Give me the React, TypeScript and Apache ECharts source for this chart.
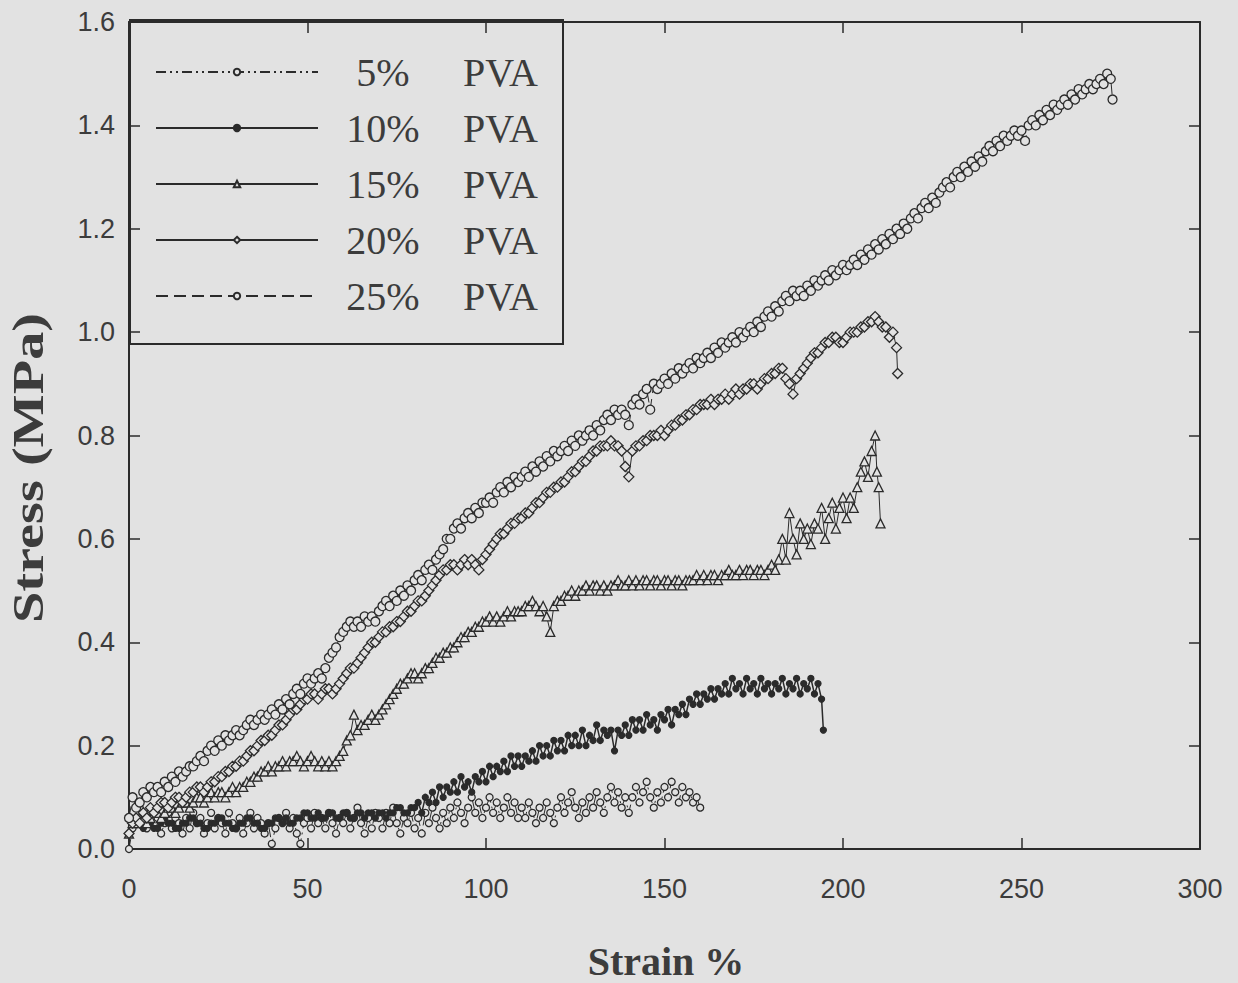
import React, { useEffect, useRef } from "react";
import * as echarts from "echarts";

const xTicks = [0, 50, 100, 150, 200, 250, 300];
const yTicks = [0, 0.2, 0.4, 0.6, 0.8, 1.0, 1.2, 1.4, 1.6];
const seriesNames = ["5% PVA", "10% PVA", "15% PVA", "20% PVA", "25% PVA"];

const pva5: [number, number][] = [
  [0,0.0],[1,0.04],[2,0.05],[3,0.08],[4,0.06],[5,0.04],[6,0.07],[7,0.05],[8,0.06],[9,0.03],
  [10,0.05],[11,0.07],[12,0.04],[13,0.06],[14,0.05],[15,0.03],[16,0.06],[17,0.04],[18,0.07],[19,0.05],
  [20,0.06],[21,0.03],[22,0.05],[23,0.07],[24,0.04],[25,0.06],[26,0.05],[27,0.03],[28,0.07],[29,0.05],
  [30,0.04],[31,0.06],[32,0.03],[33,0.05],[34,0.07],[35,0.04],[36,0.06],[37,0.05],[38,0.03],[39,0.05],
  [40,0.01],[41,0.04],[42,0.06],[43,0.05],[44,0.07],[45,0.04],[46,0.06],[47,0.03],[48,0.01],[49,0.05],
  [50,0.06],[51,0.04],[52,0.07],[53,0.05],[54,0.06],[55,0.04],[56,0.07],[57,0.05],[58,0.03],[59,0.06],
  [60,0.05],[61,0.07],[62,0.04],[63,0.06],[64,0.08],[65,0.05],[66,0.03],[67,0.06],[68,0.04],[69,0.07],
  [70,0.06],[71,0.04],[72,0.07],[73,0.05],[74,0.08],[75,0.05],[76,0.03],[77,0.06],[78,0.05],[79,0.07],
  [80,0.04],[81,0.06],[82,0.03],[83,0.07],[84,0.05],[85,0.08],[86,0.06],[87,0.04],[88,0.07],[89,0.05],
  [90,0.08],[91,0.06],[92,0.09],[93,0.07],[94,0.05],[95,0.08],[96,0.1],[97,0.07],[98,0.09],[99,0.06],
  [100,0.08],[101,0.1],[102,0.07],[103,0.09],[104,0.06],[105,0.08],[106,0.1],[107,0.07],[108,0.09],[109,0.06],
  [110,0.08],[111,0.06],[112,0.09],[113,0.07],[114,0.05],[115,0.08],[116,0.06],[117,0.09],[118,0.07],[119,0.05],
  [120,0.08],[121,0.1],[122,0.07],[123,0.09],[124,0.11],[125,0.08],[126,0.06],[127,0.09],[128,0.07],[129,0.1],
  [130,0.08],[131,0.11],[132,0.09],[133,0.07],[134,0.1],[135,0.12],[136,0.09],[137,0.11],[138,0.08],[139,0.1],
  [140,0.07],[141,0.1],[142,0.12],[143,0.09],[144,0.11],[145,0.13],[146,0.1],[147,0.08],[148,0.11],[149,0.09],
  [150,0.12],[151,0.1],[152,0.13],[153,0.11],[154,0.09],[155,0.12],[156,0.1],[157,0.11],[158,0.09],[159,0.1],[160,0.08],
];

const pva10: [number, number][] = [
  [0,0.03],[1,0.05],[2,0.06],[3,0.05],[4,0.04],[5,0.05],[6,0.05],[7,0.04],[8,0.04],[9,0.05],
  [10,0.06],[11,0.05],[12,0.05],[13,0.04],[14,0.04],[15,0.05],[16,0.05],[17,0.06],[18,0.06],[19,0.05],
  [20,0.05],[21,0.04],[22,0.04],[23,0.05],[24,0.05],[25,0.06],[26,0.06],[27,0.05],[28,0.05],[29,0.04],
  [30,0.04],[31,0.05],[32,0.05],[33,0.06],[34,0.06],[35,0.05],[36,0.05],[37,0.04],[38,0.04],[39,0.05],
  [40,0.05],[41,0.06],[42,0.06],[43,0.05],[44,0.06],[45,0.05],[46,0.05],[47,0.06],[48,0.06],[49,0.07],
  [50,0.07],[51,0.06],[52,0.06],[53,0.07],[54,0.06],[55,0.06],[56,0.07],[57,0.07],[58,0.06],[59,0.06],
  [60,0.07],[61,0.07],[62,0.06],[63,0.06],[64,0.07],[65,0.07],[66,0.06],[67,0.07],[68,0.07],[69,0.06],
  [70,0.07],[71,0.07],[72,0.06],[73,0.07],[74,0.07],[75,0.08],[76,0.08],[77,0.07],[78,0.07],[79,0.08],
  [80,0.08],[81,0.09],[82,0.07],[83,0.1],[84,0.09],[85,0.11],[86,0.09],[87,0.12],[88,0.1],[89,0.12],
  [90,0.11],[91,0.13],[92,0.11],[93,0.14],[94,0.12],[95,0.13],[96,0.11],[97,0.14],[98,0.13],[99,0.15],
  [100,0.13],[101,0.16],[102,0.14],[103,0.16],[104,0.15],[105,0.17],[106,0.15],[107,0.18],[108,0.16],[109,0.18],
  [110,0.16],[111,0.18],[112,0.17],[113,0.19],[114,0.17],[115,0.2],[116,0.18],[117,0.2],[118,0.18],[119,0.21],
  [120,0.19],[121,0.21],[122,0.19],[123,0.22],[124,0.2],[125,0.22],[126,0.2],[127,0.23],[128,0.2],[129,0.22],
  [130,0.21],[131,0.24],[132,0.21],[133,0.23],[134,0.22],[135,0.23],[136,0.19],[137,0.23],[138,0.22],[139,0.24],
  [140,0.22],[141,0.25],[142,0.23],[143,0.25],[144,0.23],[145,0.26],[146,0.24],[147,0.25],[148,0.23],[149,0.26],
  [150,0.25],[151,0.27],[152,0.24],[153,0.27],[154,0.26],[155,0.28],[156,0.26],[157,0.29],[158,0.28],[159,0.3],
  [160,0.28],[161,0.3],[162,0.29],[163,0.31],[164,0.29],[165,0.31],[166,0.3],[167,0.32],[168,0.3],[169,0.33],
  [170,0.31],[171,0.32],[172,0.3],[173,0.33],[174,0.31],[175,0.32],[176,0.3],[177,0.33],[178,0.31],[179,0.32],
  [180,0.3],[181,0.32],[182,0.31],[183,0.33],[184,0.3],[185,0.32],[186,0.31],[187,0.33],[188,0.3],[189,0.32],
  [190,0.31],[191,0.33],[192,0.3],[193,0.32],[194,0.29],[194.5,0.23],
];

const pva15: [number, number][] = [
  [0,0.03],[1,0.05],[2,0.05],[3,0.06],[4,0.06],[5,0.05],[6,0.06],[7,0.07],[8,0.07],[9,0.06],
  [10,0.07],[11,0.08],[12,0.08],[13,0.07],[14,0.08],[15,0.09],[16,0.09],[17,0.08],[18,0.09],[19,0.1],
  [20,0.1],[21,0.09],[22,0.1],[23,0.11],[24,0.1],[25,0.11],[26,0.11],[27,0.1],[28,0.11],[29,0.12],
  [30,0.11],[31,0.12],[32,0.12],[33,0.13],[34,0.13],[35,0.14],[36,0.14],[37,0.15],[38,0.15],[39,0.16],
  [40,0.15],[41,0.16],[42,0.16],[43,0.17],[44,0.16],[45,0.17],[46,0.17],[47,0.18],[48,0.17],[49,0.16],
  [50,0.17],[51,0.18],[52,0.17],[53,0.16],[54,0.17],[55,0.16],[56,0.17],[57,0.16],[58,0.17],[59,0.18],
  [60,0.19],[61,0.21],[62,0.22],[63,0.26],[64,0.23],[65,0.24],[66,0.24],[67,0.25],[68,0.26],[69,0.25],
  [70,0.26],[71,0.27],[72,0.28],[73,0.29],[74,0.3],[75,0.31],[76,0.32],[77,0.32],[78,0.33],[79,0.34],
  [80,0.34],[81,0.33],[82,0.34],[83,0.35],[84,0.35],[85,0.36],[86,0.37],[87,0.37],[88,0.38],[89,0.38],
  [90,0.39],[91,0.39],[92,0.4],[93,0.41],[94,0.41],[95,0.42],[96,0.42],[97,0.43],[98,0.43],[99,0.44],
  [100,0.44],[101,0.45],[102,0.44],[103,0.45],[104,0.44],[105,0.45],[106,0.46],[107,0.45],[108,0.46],[109,0.46],
  [110,0.46],[111,0.47],[112,0.47],[113,0.48],[114,0.47],[115,0.46],[116,0.47],[117,0.45],[118,0.42],[119,0.47],
  [120,0.48],[121,0.48],[122,0.49],[123,0.49],[124,0.5],[125,0.49],[126,0.5],[127,0.5],[128,0.51],[129,0.5],
  [130,0.51],[131,0.51],[132,0.5],[133,0.51],[134,0.5],[135,0.51],[136,0.51],[137,0.52],[138,0.51],[139,0.51],
  [140,0.52],[141,0.51],[142,0.52],[143,0.51],[144,0.52],[145,0.52],[146,0.51],[147,0.52],[148,0.52],[149,0.51],
  [150,0.52],[151,0.52],[152,0.51],[153,0.52],[154,0.52],[155,0.51],[156,0.52],[157,0.52],[158,0.52],[159,0.53],
  [160,0.52],[161,0.53],[162,0.52],[163,0.53],[164,0.53],[165,0.52],[166,0.53],[167,0.53],[168,0.54],[169,0.53],
  [170,0.53],[171,0.54],[172,0.53],[173,0.54],[174,0.54],[175,0.53],[176,0.54],[177,0.54],[178,0.53],[179,0.54],
  [180,0.55],[181,0.54],[182,0.56],[183,0.6],[184,0.56],[185,0.65],[186,0.6],[187,0.57],[188,0.63],[189,0.6],
  [190,0.62],[191,0.59],[192,0.63],[193,0.62],[194,0.66],[195,0.6],[196,0.64],[197,0.67],[198,0.62],[199,0.66],
  [200,0.68],[201,0.64],[202,0.68],[203,0.66],[204,0.7],[205,0.73],[206,0.75],[207,0.72],[208,0.77],[209,0.8],
  [209.5,0.73],[210,0.7],[210.5,0.63],
];

const pva20: [number, number][] = [
  [0,0.03],[1,0.05],[2,0.06],[3,0.05],[4,0.07],[5,0.06],[6,0.08],[7,0.07],[8,0.08],[9,0.09],
  [10,0.09],[11,0.08],[12,0.09],[13,0.1],[14,0.1],[15,0.09],[16,0.1],[17,0.11],[18,0.11],[19,0.12],
  [20,0.12],[21,0.11],[22,0.12],[23,0.13],[24,0.13],[25,0.14],[26,0.14],[27,0.15],[28,0.15],[29,0.16],
  [30,0.16],[31,0.17],[32,0.17],[33,0.18],[34,0.19],[35,0.19],[36,0.2],[37,0.21],[38,0.21],[39,0.22],
  [40,0.22],[41,0.23],[42,0.24],[43,0.24],[44,0.25],[45,0.26],[46,0.27],[47,0.27],[48,0.28],[49,0.29],
  [50,0.29],[51,0.3],[52,0.3],[53,0.29],[54,0.3],[55,0.31],[56,0.31],[57,0.3],[58,0.31],[59,0.32],
  [60,0.33],[61,0.34],[62,0.35],[63,0.35],[64,0.36],[65,0.37],[66,0.38],[67,0.39],[68,0.4],[69,0.4],
  [70,0.41],[71,0.42],[72,0.42],[73,0.43],[74,0.43],[75,0.44],[76,0.44],[77,0.45],[78,0.46],[79,0.46],
  [80,0.47],[81,0.48],[82,0.48],[83,0.49],[84,0.5],[85,0.51],[86,0.52],[87,0.53],[88,0.54],[89,0.54],
  [90,0.55],[91,0.55],[92,0.54],[93,0.55],[94,0.56],[95,0.55],[96,0.56],[97,0.55],[98,0.54],[99,0.56],
  [100,0.57],[101,0.58],[102,0.59],[103,0.6],[104,0.61],[105,0.61],[106,0.62],[107,0.63],[108,0.63],[109,0.64],
  [110,0.64],[111,0.65],[112,0.65],[113,0.66],[114,0.67],[115,0.67],[116,0.68],[117,0.69],[118,0.69],[119,0.7],
  [120,0.7],[121,0.71],[122,0.71],[123,0.72],[124,0.73],[125,0.73],[126,0.74],[127,0.75],[128,0.75],[129,0.76],
  [130,0.77],[131,0.77],[132,0.78],[133,0.78],[134,0.78],[135,0.79],[136,0.78],[137,0.78],[138,0.77],[139,0.74],
  [140,0.72],[141,0.77],[142,0.78],[143,0.78],[144,0.79],[145,0.79],[146,0.8],[147,0.8],[148,0.8],[149,0.81],
  [150,0.8],[151,0.81],[152,0.82],[153,0.82],[154,0.83],[155,0.83],[156,0.84],[157,0.84],[158,0.85],[159,0.85],
  [160,0.86],[161,0.86],[162,0.86],[163,0.87],[164,0.86],[165,0.87],[166,0.87],[167,0.88],[168,0.87],[169,0.88],
  [170,0.89],[171,0.88],[172,0.89],[173,0.89],[174,0.9],[175,0.9],[176,0.89],[177,0.9],[178,0.91],[179,0.91],
  [180,0.92],[181,0.92],[182,0.93],[183,0.93],[184,0.91],[185,0.9],[186,0.88],[187,0.91],[188,0.92],[189,0.93],
  [190,0.94],[191,0.95],[192,0.96],[193,0.96],[194,0.97],[195,0.98],[196,0.98],[197,0.99],[198,0.99],[199,0.98],
  [200,0.98],[201,0.99],[202,1.0],[203,1.0],[204,1.0],[205,1.01],[206,1.01],[207,1.02],[208,1.02],[209,1.03],
  [210,1.02],[211,1.01],[212,1.01],[213,0.99],[214,1.0],[215,0.97],[215.3,0.92],
];

const pva25: [number, number][] = [
  [0,0.06],[1,0.1],[2,0.08],[3,0.09],[4,0.11],[5,0.1],[6,0.12],[7,0.11],[8,0.12],[9,0.11],
  [10,0.13],[11,0.12],[12,0.14],[13,0.13],[14,0.15],[15,0.14],[16,0.15],[17,0.16],[18,0.16],[19,0.17],
  [20,0.18],[21,0.17],[22,0.19],[23,0.2],[24,0.19],[25,0.21],[26,0.2],[27,0.22],[28,0.21],[29,0.22],
  [30,0.23],[31,0.22],[32,0.23],[33,0.24],[34,0.25],[35,0.24],[36,0.25],[37,0.26],[38,0.25],[39,0.26],
  [40,0.27],[41,0.26],[42,0.28],[43,0.27],[44,0.29],[45,0.28],[46,0.3],[47,0.31],[48,0.3],[49,0.32],
  [50,0.33],[51,0.32],[52,0.33],[53,0.34],[54,0.33],[55,0.35],[56,0.37],[57,0.38],[58,0.39],[59,0.41],
  [60,0.42],[61,0.43],[62,0.44],[63,0.43],[64,0.44],[65,0.43],[66,0.45],[67,0.44],[68,0.45],[69,0.44],
  [70,0.46],[71,0.47],[72,0.48],[73,0.47],[74,0.49],[75,0.48],[76,0.5],[77,0.49],[78,0.51],[79,0.5],
  [80,0.52],[81,0.53],[82,0.52],[83,0.54],[84,0.55],[85,0.54],[86,0.56],[87,0.57],[88,0.58],[89,0.6],
  [90,0.6],[91,0.62],[92,0.63],[93,0.62],[94,0.64],[95,0.65],[96,0.64],[97,0.66],[98,0.65],[99,0.67],
  [100,0.67],[101,0.68],[102,0.67],[103,0.69],[104,0.7],[105,0.69],[106,0.71],[107,0.7],[108,0.72],[109,0.71],
  [110,0.72],[111,0.73],[112,0.72],[113,0.74],[114,0.73],[115,0.75],[116,0.74],[117,0.76],[118,0.75],[119,0.77],
  [120,0.76],[121,0.77],[122,0.78],[123,0.77],[124,0.79],[125,0.78],[126,0.8],[127,0.79],[128,0.8],[129,0.81],
  [130,0.8],[131,0.82],[132,0.81],[133,0.83],[134,0.84],[135,0.83],[136,0.85],[137,0.84],[138,0.85],[139,0.84],
  [140,0.82],[141,0.86],[142,0.87],[143,0.86],[144,0.88],[145,0.89],[146,0.85],[147,0.9],[148,0.89],[149,0.9],
  [150,0.91],[151,0.9],[152,0.92],[153,0.91],[154,0.93],[155,0.92],[156,0.93],[157,0.94],[158,0.93],[159,0.95],
  [160,0.94],[161,0.95],[162,0.96],[163,0.95],[164,0.97],[165,0.96],[166,0.98],[167,0.97],[168,0.98],[169,0.99],
  [170,0.98],[171,1.0],[172,0.99],[173,1.0],[174,1.01],[175,1.0],[176,1.02],[177,1.01],[178,1.03],[179,1.04],
  [180,1.03],[181,1.05],[182,1.04],[183,1.06],[184,1.07],[185,1.06],[186,1.08],[187,1.07],[188,1.08],[189,1.07],
  [190,1.09],[191,1.08],[192,1.1],[193,1.09],[194,1.1],[195,1.11],[196,1.1],[197,1.12],[198,1.11],[199,1.12],
  [200,1.13],[201,1.12],[202,1.13],[203,1.14],[204,1.13],[205,1.15],[206,1.14],[207,1.16],[208,1.15],[209,1.17],
  [210,1.16],[211,1.18],[212,1.17],[213,1.19],[214,1.18],[215,1.2],[216,1.19],[217,1.21],[218,1.2],[219,1.22],
  [220,1.23],[221,1.22],[222,1.24],[223,1.25],[224,1.24],[225,1.26],[226,1.25],[227,1.27],[228,1.28],[229,1.29],
  [230,1.28],[231,1.3],[232,1.31],[233,1.3],[234,1.32],[235,1.31],[236,1.33],[237,1.32],[238,1.34],[239,1.33],
  [240,1.35],[241,1.36],[242,1.35],[243,1.37],[244,1.36],[245,1.38],[246,1.37],[247,1.38],[248,1.39],[249,1.38],
  [250,1.39],[251,1.37],[252,1.4],[253,1.41],[254,1.4],[255,1.42],[256,1.41],[257,1.43],[258,1.42],[259,1.44],
  [260,1.43],[261,1.44],[262,1.45],[263,1.44],[264,1.46],[265,1.45],[266,1.47],[267,1.46],[268,1.47],[269,1.48],
  [270,1.47],[271,1.48],[272,1.49],[273,1.48],[274,1.5],[275,1.49],[275.5,1.45],
];

const BG = "#e2e2e2";
const INK = "#2b2b2b";
const TXT = "#3c3c3c";

export default function App() {
  const ref = useRef<HTMLDivElement>(null);
  useEffect(() => {
    document.body.style.margin = "0";
    document.body.style.background = BG;
    const chart = echarts.init(ref.current!, null, { renderer: "svg" });

    const mk = (
      name: string,
      data: [number, number][],
      symbol: string,
      size: number,
      filled: boolean,
      dash: any,
      lw: number
    ) => ({
      name,
      type: "line",
      data,
      symbol,
      symbolSize: size,
      showSymbol: true,
      lineStyle: { color: INK, width: lw, type: dash },
      itemStyle: { color: filled ? INK : BG, borderColor: INK, borderWidth: 1.3 },
      emphasis: { disabled: true },
    });

    const axisCommon = {
      type: "value",
      axisLine: { show: true, onZero: false, lineStyle: { color: INK, width: 2 } },
      axisTick: { show: true, inside: true, length: 11, lineStyle: { color: INK, width: 1.5 } },
      splitLine: { show: false },
    };

    chart.setOption({
      animation: false,
      backgroundColor: BG,
      grid: { left: 129, right: 38, top: 22, bottom: 134 },
      xAxis: [
        {
          ...axisCommon,
          min: xTicks[0],
          max: xTicks[xTicks.length - 1],
          interval: xTicks[1] - xTicks[0],
          position: "bottom",
          axisLabel: { margin: 26, fontSize: 27, color: TXT, fontFamily: "Liberation Sans" },
        },
        {
          ...axisCommon,
          min: xTicks[0],
          max: xTicks[xTicks.length - 1],
          interval: xTicks[1] - xTicks[0],
          position: "top",
          axisLabel: { show: false },
        },
      ],
      yAxis: [
        {
          ...axisCommon,
          min: yTicks[0],
          max: yTicks[yTicks.length - 1],
          interval: 0.2,
          position: "left",
          axisLabel: {
            margin: 14,
            fontSize: 27,
            color: TXT,
            fontFamily: "Liberation Sans",
            formatter: (v: number) => v.toFixed(1),
          },
        },
        {
          ...axisCommon,
          min: yTicks[0],
          max: yTicks[yTicks.length - 1],
          interval: 0.2,
          position: "right",
          axisLabel: { show: false },
        },
      ],
      legend: {
        orient: "vertical",
        left: 150,
        top: 47,
        itemWidth: 162,
        itemHeight: 8,
        itemGap: 16,
        data: seriesNames,
        selectedMode: false,
        formatter: (name: string) => {
          const [p, v] = name.split(" ");
          return `{p|${p}}{v|${v}}`;
        },
        textStyle: {
          rich: {
            p: { width: 120, align: "right", fontSize: 40, lineHeight: 40, fontFamily: "Liberation Serif", color: TXT },
            v: { padding: [0, 0, 0, 20], fontSize: 40, lineHeight: 40, fontFamily: "Liberation Serif", color: TXT },
          },
        },
      },
      graphic: [
        {
          type: "rect",
          shape: { x: 130, y: 20, width: 433, height: 324 },
          style: { fill: "none", stroke: INK, lineWidth: 2 },
          z: 10,
        },
        {
          type: "text",
          x: 666,
          y: 961,
          style: {
            text: "Strain %",
            font: 'bold 40px "Liberation Serif"',
            fill: TXT,
            align: "center",
            verticalAlign: "middle",
          },
        },
        {
          type: "text",
          x: 28,
          y: 468,
          rotation: Math.PI / 2,
          scaleX: 1.28,
          style: {
            text: "Stress (MPa)",
            font: 'bold 44px "Liberation Serif"',
            fill: TXT,
            align: "center",
            verticalAlign: "middle",
          },
        },
      ],
      series: [
        mk(seriesNames[0], pva5, "circle", 7, false, [10, 4, 2, 4, 2, 4], 1),
        mk(seriesNames[1], pva10, "circle", 6, true, "solid", 1.5),
        mk(seriesNames[2], pva15, "triangle", 9, false, "solid", 1),
        mk(seriesNames[3], pva20, "diamond", 10, false, "solid", 1),
        mk(seriesNames[4], pva25, "circle", 9, false, [12, 6], 1),
      ],
    });
    return () => chart.dispose();
  }, []);
  return <div ref={ref} style={{ width: 1238, height: 983, position: "absolute", left: 0, top: 0 }} />;
}
